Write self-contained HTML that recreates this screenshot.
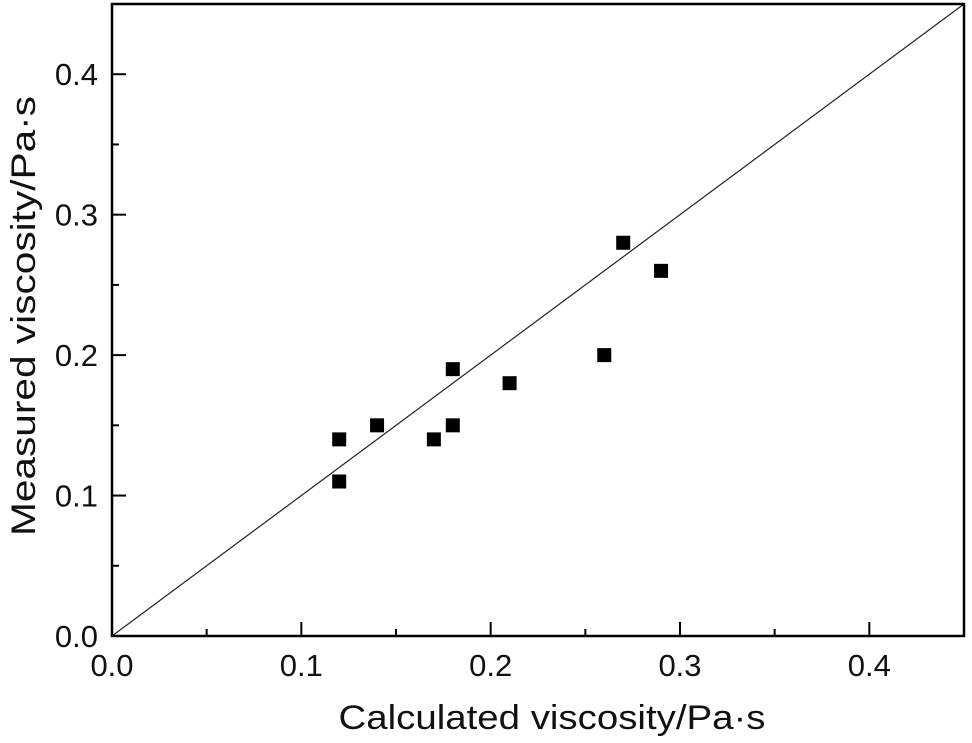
<!DOCTYPE html>
<html><head><meta charset="utf-8"><style>
html,body{margin:0;padding:0;background:#fff;}
svg{display:block;font-family:"Liberation Sans",Arial,sans-serif;}
</style></head><body>
<svg id="chart" width="972" height="743"></svg>
<script>
const xVals=[0.12,0.12,0.14,0.17,0.18,0.18,0.21,0.26,0.27,0.29];
const yVals=[0.14,0.11,0.15,0.14,0.19,0.15,0.18,0.20,0.28,0.26];
const tickVals=[0,0.1,0.2,0.3,0.4];
const tickLabels=["0.0","0.1","0.2","0.3","0.4"];
const NS="http://www.w3.org/2000/svg";
const svg=document.getElementById('chart');
const X0=112,X1=964,Y0=636,Y1=4,MAX=0.45;
const sx=v=>X0+(X1-X0)*v/MAX, sy=v=>Y0-(Y0-Y1)*v/MAX;
function mk(t,a){const e=document.createElementNS(NS,t);for(const k in a)e.setAttribute(k,a[k]);svg.appendChild(e);return e;}
let e;
e=mk('line',{x1:sx(0),y1:sy(0),x2:sx(MAX),y2:sy(MAX),stroke:'#222','stroke-width':1.2});


for(let i=0;i<tickVals.length;i++){
 const v=tickVals[i];
 e=mk('line',{x1:sx(v),y1:Y0,x2:sx(v),y2:Y0-14,stroke:'#000','stroke-width':2});
 
 
 e=mk('line',{x1:X0,y1:sy(v),x2:X0+14,y2:sy(v),stroke:'#000','stroke-width':2});
 
 
 const m=v+0.05;
 if(m<MAX){
  e=mk('line',{x1:sx(m),y1:Y0,x2:sx(m),y2:Y0-7,stroke:'#000','stroke-width':2});
  
  
  e=mk('line',{x1:X0,y1:sy(m),x2:X0+7,y2:sy(m),stroke:'#000','stroke-width':2});
  
  
 }
 e=mk('text',{x:sx(v),y:Y0+40,'text-anchor':'middle','font-size':31,fill:'#111'});
 e.textContent=tickLabels[i];
 
 
 e=mk('text',{x:X0-14,y:sy(v)+11,'text-anchor':'end','font-size':31,fill:'#111'});
 e.textContent=tickLabels[i];
 
 
}
e=mk('rect',{x:X0,y:Y1,width:X1-X0,height:Y0-Y1,fill:'none',stroke:'#000','stroke-width':2.5});


for(let i=0;i<xVals.length;i++){
 e=mk('rect',{x:sx(xVals[i])-7,y:sy(yVals[i])-7,width:14,height:14,fill:'#000'});
 
 
}
e=mk('text',{x:552,y:729,'text-anchor':'middle','font-size':34,fill:'#111',textLength:427,lengthAdjust:'spacingAndGlyphs'});
e.textContent='Calculated viscosity/Pa·s';


e=mk('text',{x:0,y:0,'text-anchor':'middle','font-size':34,fill:'#111',textLength:440,lengthAdjust:'spacingAndGlyphs',transform:'translate(35,316) rotate(-90)'});
e.textContent='Measured viscosity/Pa·s';


</script>
</body></html>
